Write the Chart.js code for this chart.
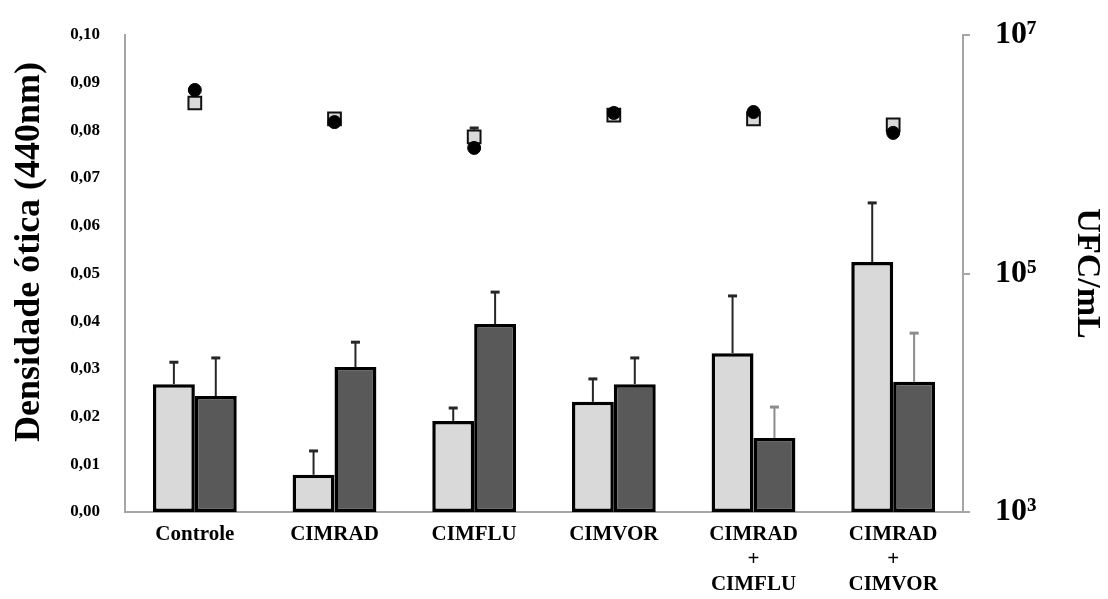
<!DOCTYPE html>
<html><head><meta charset="utf-8">
<script src="https://cdn.jsdelivr.net/npm/chart.js@4.4.1/dist/chart.umd.min.js"></script>
<style>html,body{margin:0;padding:0;background:#fff;} #wrap{width:1108px;height:599px;}</style>
</head><body><div id="wrap"><canvas id="c" width="1108" height="599"></canvas></div>
<script>
const categories = [['Controle'], ['CIMRAD'], ['CIMFLU'], ['CIMVOR'], ['CIMRAD', '+', 'CIMFLU'], ['CIMRAD', '+', 'CIMVOR']];
const odLight = [0.0268, 0.0078, 0.0191, 0.0231, 0.0333, 0.0524];
const odLightErr = [0.0046, 0.0050, 0.0027, 0.0048, 0.0120, 0.0124];
const odDark = [0.0243, 0.0304, 0.0394, 0.0268, 0.0155, 0.0273];
const odDarkErr = [0.0080, 0.0052, 0.0067, 0.0055, 0.0065, 0.0102];
const cfuSquare = [2.69e6, 1.98e6, 1.40e6, 2.13e6, 1.98e6, 1.76e6];
const cfuSquareErr = [0, 0, 2.6e5, 0, 0, 0];
const cfuCircle = [3.46e6, 1.86e6, 1.13e6, 2.22e6, 2.26e6, 1.51e6];
const leftTickLabels = ['0,00', '0,01', '0,02', '0,03', '0,04', '0,05', '0,06', '0,07', '0,08', '0,09', '0,10'];
const rightTickValues = [1e3, 1e5, 1e7];
const rightTickLabels = ['10\u00B3', '10\u2075', '10\u2077'];

const FAM = "'Liberation Serif', 'Times New Roman', serif";
const LIGHT = '#d9d9d9', DARK = '#595959', AXIS = '#a6a6a6';
const darkErrColors = ['#262626', '#262626', '#262626', '#262626', '#8c8c8c', '#8c8c8c'];

const errorBars = {
  id: 'errorBars',
  afterDatasetsDraw(chart) {
    const ctx = chart.ctx;
    const ys = chart.scales.y, y1 = chart.scales.y1;
    function bar(x, yFrom, yTo, color) {
      ctx.save();
      ctx.strokeStyle = color;
      ctx.lineWidth = 2;
      ctx.beginPath();
      ctx.moveTo(x, yFrom); ctx.lineTo(x, yTo);
      ctx.stroke();
      ctx.lineWidth = 3;
      ctx.beginPath();
      ctx.moveTo(x - 4.5, yTo); ctx.lineTo(x + 4.5, yTo);
      ctx.stroke();
      ctx.restore();
    }
    const m0 = chart.getDatasetMeta(0), m1 = chart.getDatasetMeta(1), m2 = chart.getDatasetMeta(2);
    odLight.forEach((v, i) => {
      const el = m0.data[i];
      bar(el.x, ys.getPixelForValue(v), ys.getPixelForValue(v + odLightErr[i]), '#262626');
    });
    odDark.forEach((v, i) => {
      const el = m1.data[i];
      bar(el.x, ys.getPixelForValue(v), ys.getPixelForValue(v + odDarkErr[i]), darkErrColors[i]);
    });
    cfuSquare.forEach((v, i) => {
      if (!cfuSquareErr[i]) return;
      const el = m2.data[i];
      bar(el.x, y1.getPixelForValue(v) - 6.5, y1.getPixelForValue(v + cfuSquareErr[i]), '#262626');
    });
  }
};

new Chart(document.getElementById('c'), {
  type: 'bar',
  data: {
    labels: categories,
    datasets: [
      { label: 'DO light', data: odLight, yAxisID: 'y', backgroundColor: LIGHT, borderColor: '#000', borderWidth: 3.5, borderSkipped: false, categoryPercentage: 0.6, barPercentage: 1.0, order: 3 },
      { label: 'DO dark', data: odDark, yAxisID: 'y', backgroundColor: DARK, borderColor: '#000', borderWidth: 3.5, borderSkipped: false, categoryPercentage: 0.6, barPercentage: 1.0, order: 3 },
      { type: 'line', label: 'UFC square', data: cfuSquare, yAxisID: 'y1', showLine: false, pointStyle: 'rect', pointRadius: 9, backgroundColor: LIGHT, borderColor: '#111', borderWidth: 2, order: 2 },
      { type: 'line', label: 'UFC circle', data: cfuCircle, yAxisID: 'y1', showLine: false, pointStyle: 'circle', pointRadius: 6.5, backgroundColor: '#000', borderColor: '#000', borderWidth: 1, order: 1 }
    ]
  },
  options: {
    responsive: false,
    animation: false,
    devicePixelRatio: 1,
    layout: { padding: { top: 35, left: 0, right: 0, bottom: 0 } },
    plugins: { legend: { display: false }, tooltip: { enabled: false } },
    scales: {
      x: {
        grid: { display: false },
        border: { display: true, color: AXIS, width: 2 },
        ticks: { color: '#000', font: { family: FAM, size: 21, weight: 'bold', lineHeight: 1.2 }, padding: 2, maxRotation: 0, autoSkip: false },
        afterFit(s) { s.height = 87; s.paddingLeft = 0; s.paddingRight = 0; }
      },
      y: {
        position: 'left',
        min: 0, max: 0.1,
        grid: { display: false },
        border: { display: true, color: AXIS, width: 2 },
        ticks: { stepSize: 0.01, color: '#000', font: { family: FAM, size: 17, weight: 'bold' }, padding: 17, callback: (v, i) => leftTickLabels[i] },
        title: { display: true, text: '\u2003\u2009Densidade ótica (440nm)', color: '#000', font: { family: FAM, size: 36, weight: 'bold' }, padding: { top: 8, bottom: 0 } },
        afterFit(s) { s.width = 125; s.paddingTop = 0; s.paddingBottom = 0; }
      },
      y1: {
        type: 'logarithmic',
        position: 'right',
        min: 1e3, max: 1e7,
        afterBuildTicks(s) { s.ticks = rightTickValues.map(v => ({ value: v })); },
        grid: { display: true, drawOnChartArea: false, drawTicks: true, tickLength: 7, color: AXIS, lineWidth: 2 },
        border: { display: true, color: AXIS, width: 2 },
        ticks: { color: '#000', font: { family: FAM, size: 32, weight: 'bold' }, padding: 25, callback: (v) => rightTickLabels[rightTickValues.indexOf(v)] },
        title: { display: true, text: 'UFC/mL', color: '#000', font: { family: FAM, size: 34, weight: 'bold' }, padding: { top: 1, bottom: 0 } },
        afterFit(s) { s.width = 145; s.paddingTop = 0; s.paddingBottom = 0; }
      }
    }
  },
  plugins: [errorBars]
});
</script>
</body></html>
